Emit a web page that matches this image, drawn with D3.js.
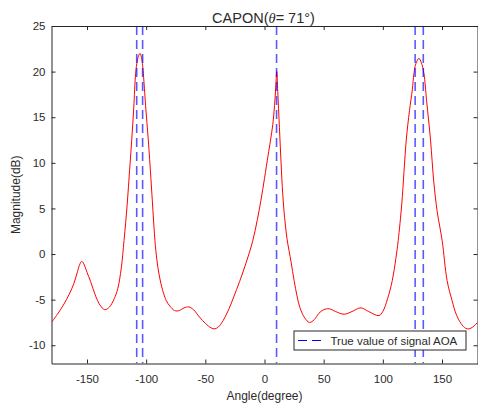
<!DOCTYPE html>
<meta charset='utf-8'>
<style>
body { margin: 0; background: #fff; }
text { font-family: 'Liberation Sans', Arial, sans-serif; fill: #2b2b2b; }
.axis path, .axis line { stroke: #262626; }
.axis text { font-size: 11.5px; }
</style>
<svg width='478' height='408'></svg>
<script src='https://d3js.org/d3.v7.min.js'></script>
<script>

// spectrum (angle in degrees, magnitude in dB)
var angles = [-180, -175, -170, -165, -161, -158, -156, -154.5, -153, -150, -147, -143, -139, -135, -131, -127, -124,
  -121, -118.7, -116, -114, -112.2, -110.5, -108.9, -107.5, -106.2, -105.2, -104.2, -103.2, -102.4, -100.5, -98.2,
  -96, -94.3, -92.6, -91, -89, -86, -83, -80, -76, -72, -68, -64, -60, -55, -50, -45, -42, -39, -35, -30, -26, -21,
  -15.4, -10, -6, -3, 0, 3, 5, 7, 8.5, 9.5, 10.35, 11.2, 12.6, 14, 15.4, 17, 19, 22.5, 25, 27.5, 30, 34, 38, 42, 46,
  50, 54.7, 60, 67.3, 74, 81.4, 88, 96.8, 100, 104, 108, 111, 113, 116, 119.8, 122.5, 124.9, 126.3, 128, 130.5,
  132.5, 134.7, 137, 140.3, 143, 146, 150.1, 154.3, 158.5, 162, 166, 170, 173, 176, 180];
var magnitude = [-7.5, -6.6, -5.6, -4.4, -3.2, -1.9, -1.1, -0.8, -1.0, -2.0, -3.0, -4.5, -5.6, -6.1, -5.8, -4.9, -3.8,
  -1.5, 1.5, 5.5, 9.2, 12.5, 16.0, 19.8, 21.2, 21.8, 22.0, 21.7, 20.9, 19.8, 16.3, 12.5,
  8.3, 4.8, 1.5, -0.6, -2.3, -4.0, -5.1, -5.7, -6.2, -6.2, -5.9, -5.8, -6.1, -6.9, -7.6, -8.1, -8.2, -8.0, -7.3, -6.0, -4.7, -3.0,
  -0.9, 1.4, 3.8, 5.9, 8.3, 10.8, 12.4, 14.2, 16.3, 18.3, 20.0, 17.8, 13.9, 10.0, 6.6, 4.0, 1.7, -0.9, -2.9, -4.6, -5.9, -7.0, -7.5, -7.2, -6.5,
  -6.1, -6.0, -6.3, -6.6, -6.3, -5.9, -6.3, -6.75, -6.3, -4.9, -2.9, -0.5, 1.5, 5.5, 12.5, 15.7, 18.0, 19.8, 20.9, 21.45,
  21.0, 19.8, 16.8, 12.5, 8.0, 4.6, 1.5, -2.9, -5.1, -6.6, -7.6, -8.15, -8.2, -8.0, -7.5];

// true AOA markers
var trueAOA = [-108, -103, 10.2, 127.3, 134.2];

var xTicks = [-150, -100, -50, 0, 50, 100, 150];
var yTicks = [-10, -5, 0, 5, 10, 15, 20, 25];

var svg = d3.select('svg'),
    plotLeft = 51.5, plotRight = 477.5, plotTop = 26, plotBottom = 363.5;

var x = d3.scaleLinear().domain([-180, 180]).range([plotLeft, plotRight]);
var y = d3.scaleLinear().domain([-12, 25]).range([plotBottom, plotTop]);

var fmt = function(d) { return String(d); };  // plain hyphen minus like the original

svg.append('defs').append('clipPath').attr('id', 'plot')
  .append('rect').attr('x', plotLeft).attr('y', plotTop)
  .attr('width', plotRight - plotLeft).attr('height', plotBottom - plotTop);

// axes, ticks pointing inward, box on
svg.append('g').attr('class', 'axis').attr('transform', 'translate(0,' + plotBottom + ')')
  .call(d3.axisBottom(x).tickValues(xTicks).tickFormat(fmt).tickSizeInner(-4).tickSizeOuter(0).tickPadding(11));
svg.append('g').attr('class', 'axis').attr('transform', 'translate(0,' + plotTop + ')')
  .call(d3.axisTop(x).tickValues(xTicks).tickSizeInner(-4).tickSizeOuter(0).tickFormat(''));
svg.append('g').attr('class', 'axis').attr('transform', 'translate(' + plotLeft + ',0)')
  .call(d3.axisLeft(y).tickValues(yTicks).tickFormat(fmt).tickSizeInner(-4).tickSizeOuter(0).tickPadding(6));
svg.append('g').attr('class', 'axis').attr('transform', 'translate(' + plotRight + ',0)')
  .call(d3.axisRight(y).tickValues(yTicks).tickSizeInner(-4).tickSizeOuter(0).tickFormat(''));

var data = angles.map(function(a, i) { return [a, magnitude[i]]; });

var line = d3.line()
  .x(function(d) { return x(d[0]); })
  .y(function(d) { return y(d[1]); })
  .curve(d3.curveCatmullRom.alpha(0.5));

var plot = svg.append('g').attr('clip-path', 'url(#plot)');

plot.append('path')
  .datum(data)
  .attr('d', line)
  .attr('fill', 'none')
  .attr('stroke', '#ff0000')
  .attr('stroke-width', 1);

plot.selectAll('line.aoa')
  .data(trueAOA)
  .enter().append('line')
    .attr('class', 'aoa')
    .attr('x1', function(d) { return x(d); })
    .attr('x2', function(d) { return x(d); })
    .attr('y1', plotTop)
    .attr('y2', plotBottom)
    .attr('stroke', '#0000ff')
    .attr('stroke-opacity', 0.65)
    .attr('stroke-width', 1.6)
    .attr('stroke-dasharray', '9,5');

// title and labels
var title = svg.append('text')
  .attr('x', (plotLeft + plotRight) / 2 - 1)
  .attr('y', 22.5)
  .attr('text-anchor', 'middle')
  .style('font-size', '14.5px');
title.append('tspan').text('CAPON(');
title.append('tspan').style('font-style', 'italic').style('font-family', 'Liberation Serif, serif').text('θ');
title.append('tspan').text('= 71°)');

svg.append('text')
  .attr('x', (plotLeft + plotRight) / 2)
  .attr('y', 400)
  .attr('text-anchor', 'middle')
  .style('font-size', '12px')
  .text('Angle(degree)');

svg.append('text')
  .attr('transform', 'translate(20,' + ((plotTop + plotBottom) / 2) + ') rotate(-90)')
  .attr('text-anchor', 'middle')
  .style('font-size', '12px')
  .text('Magnitude(dB)');

// legend
var legend = svg.append('g').attr('transform', 'translate(294,331)');
legend.append('rect')
  .attr('width', 172)
  .attr('height', 19)
  .attr('fill', '#fff')
  .attr('stroke', '#262626')
  .attr('stroke-width', 1);
legend.append('line')
  .attr('x1', 4).attr('x2', 31)
  .attr('y1', 9.5).attr('y2', 9.5)
  .attr('stroke', '#0000ff')
  .attr('stroke-width', 1.2)
  .attr('stroke-dasharray', '9,5');
legend.append('text')
  .attr('x', 36.5)
  .attr('y', 13.5)
  .style('font-size', '11.5px')
  .text('True value of signal AOA');

</script>
